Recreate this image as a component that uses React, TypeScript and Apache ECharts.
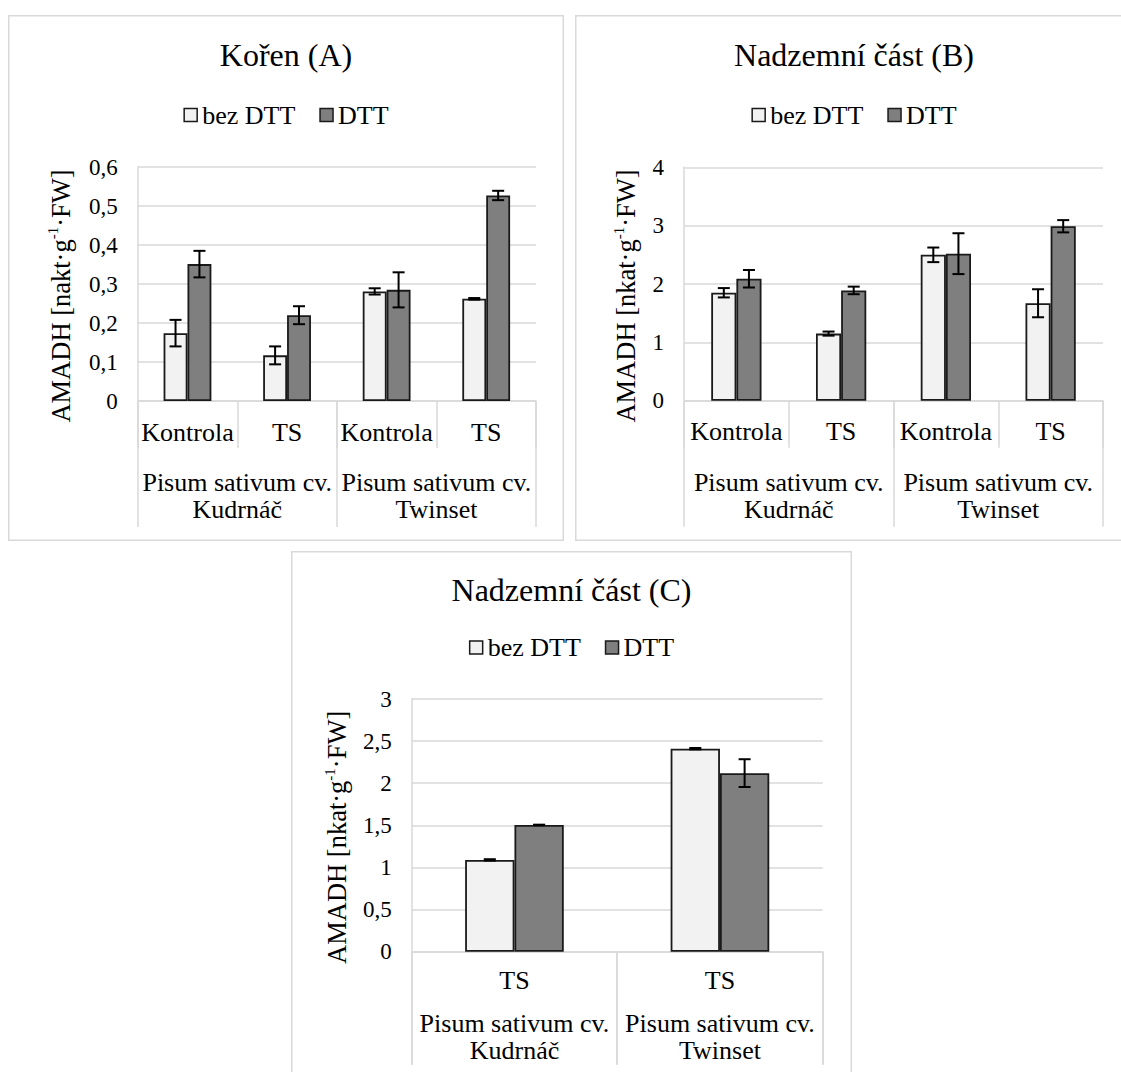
import React, { useEffect, useRef } from 'react';
import * as echarts from 'echarts';

const FONT = 'Liberation Serif, serif';
const LIGHT = '#f2f2f2';
const DARK = '#7f7f7f';
const GRIDC = '#d9d9d9';
const INK = '#000000';
const EDGE = '#1a1a1a';

const seriesNames = ['bez DTT', 'DTT'];

// Panel A – Kořen
const catsAB = ['Kontrola', 'TS', 'Kontrola', 'TS'];
const groupsAB = ['Pisum sativum cv.\nKudrnáč', 'Pisum sativum cv.\nTwinset'];
const aBez = [0.174, 0.117, 0.281, 0.262];
const aBezErr = [0.034, 0.023, 0.008, 0.002];
const aDtt = [0.351, 0.22, 0.285, 0.527];
const aDttErr = [0.034, 0.023, 0.045, 0.012];
const aTicks = { min: 0, max: 0.6, interval: 0.1 };

// Panel B – Nadzemní část
const bBez = [1.85, 1.15, 2.5, 1.67];
const bBezErr = [0.08, 0.035, 0.125, 0.24];
const bDtt = [2.09, 1.89, 2.52, 2.99];
const bDttErr = [0.15, 0.065, 0.35, 0.105];
const bTicks = { min: 0, max: 4, interval: 1 };

// Panel C – Nadzemní část
const catsC = ['TS', 'TS'];
const groupsC = ['Pisum sativum cv.\nKudrnáč', 'Pisum sativum cv.\nTwinset'];
const cBez = [1.09, 2.41];
const cBezErr = [0.008, 0.008];
const cDtt = [1.505, 2.12];
const cDttErr = [0.003, 0.165];
const cTicks = { min: 0, max: 3, interval: 0.5 };

type Spec = {
  title: string;
  yName: string;
  cats: string[];
  groups: string[];
  bez: number[];
  bezErr: number[];
  dtt: number[];
  dttErr: number[];
  ticks: { min: number; max: number; interval: number };
  box: { left: number; top: number; width: number; height: number };
  grid: { left: number; top: number; width: number; height: number };
  nameGap: number;
  subMargin: number;
  groupMargin: number;
  subTick: number;
  groupTick: number;
  titleTop: number;
  legendTop: number;
};

const fmt = (v: number) => String(Number(v.toFixed(2))).replace('.', ',');

function errSeries(vals: number[], errs: number[], offset: number) {
  return {
    type: 'custom',
    xAxisIndex: 0,
    yAxisIndex: 0,
    silent: true,
    z: 10,
    encode: { x: 0, y: 1 },
    data: vals.map((v, i) => [i, v, errs[i]]),
    renderItem: (params: any, api: any) => {
      const i = api.value(0);
      const v = api.value(1);
      const e = api.value(2);
      if (!(e > 0)) return null;
      const band = api.size([1, 0])[0];
      const cx = api.coord([i, v])[0] + offset * band;
      const yt = api.coord([i, v + e])[1];
      const yb = api.coord([i, v - e])[1];
      const st = { stroke: INK, lineWidth: 2 };
      return {
        type: 'group',
        children: [
          { type: 'line', shape: { x1: cx, y1: yt, x2: cx, y2: yb }, style: st },
          { type: 'line', shape: { x1: cx - 6, y1: yt, x2: cx + 6, y2: yt }, style: st },
          { type: 'line', shape: { x1: cx - 6, y1: yb, x2: cx + 6, y2: yb }, style: st },
        ],
      };
    },
  };
}

function buildOption(s: Spec): any {
  const text = { fontFamily: FONT, color: INK };
  return {
    animation: false,
    backgroundColor: '#ffffff',
    textStyle: { fontFamily: FONT },
    title: {
      text: s.title,
      left: 'center',
      top: s.titleTop,
      padding: 0,
      textStyle: { ...text, fontSize: 32, fontWeight: 'normal', lineHeight: 32 },
    },
    legend: {
      data: seriesNames,
      left: 'center',
      top: s.legendTop,
      padding: [0, 0, 0, 16],
      itemWidth: 13,
      itemHeight: 13,
      itemGap: 24,
      icon: 'rect',
      textStyle: { ...text, fontSize: 26 },
      itemStyle: { borderColor: EDGE, borderWidth: 1.5 },
    },
    graphic: [
      {
        type: 'rect',
        shape: { x: 0.75, y: 0.75, width: s.box.width - 1.5, height: s.box.height - 1.5 },
        style: { fill: 'none', stroke: GRIDC, lineWidth: 1.5 },
        silent: true,
        z: -1,
      },
    ],
    grid: { ...s.grid, containLabel: false },
    xAxis: [
      {
        type: 'category',
        data: s.cats,
        position: 'bottom',
        axisLine: { show: true, lineStyle: { color: GRIDC, width: 1.5 } },
        axisTick: { show: true, interval: 0, length: s.subTick, lineStyle: { color: GRIDC, width: 1.5 } },
        axisLabel: { interval: 0, margin: s.subMargin, ...text, fontSize: 26 },
        splitLine: { show: false },
      },
      {
        type: 'category',
        data: s.groups,
        position: 'bottom',
        axisLine: { show: false },
        axisTick: { show: true, interval: 0, length: s.groupTick, lineStyle: { color: GRIDC, width: 1.5 } },
        axisLabel: { interval: 0, margin: s.groupMargin, ...text, fontSize: 26, lineHeight: 27 },
        splitLine: { show: false },
      },
    ],
    yAxis: {
      type: 'value',
      min: s.ticks.min,
      max: s.ticks.max,
      interval: s.ticks.interval,
      axisLine: { show: true, lineStyle: { color: GRIDC, width: 1.5 } },
      axisTick: { show: false },
      splitLine: { show: true, lineStyle: { color: GRIDC, width: 1.5 } },
      axisLabel: { ...text, fontSize: 23, margin: 20, formatter: (v: number) => fmt(v) },
      name: s.yName,
      nameLocation: 'middle',
      nameGap: s.nameGap,
      nameTextStyle: {
        ...text,
        fontSize: 26.5,
        padding: [0, 24, 0, 0],
        rich: {
          n: { fontFamily: FONT, color: INK, fontSize: 26.5, lineHeight: 30 },
          s: { fontFamily: FONT, color: INK, fontSize: 15, lineHeight: 15, verticalAlign: 'top' },
        },
      },
    },
    series: [
      {
        type: 'bar',
        name: seriesNames[0],
        data: s.bez,
        barGap: '0%',
        barCategoryGap: '52%',
        itemStyle: { color: LIGHT, borderColor: EDGE, borderWidth: 1.8 },
        z: 2,
      },
      {
        type: 'bar',
        name: seriesNames[1],
        data: s.dtt,
        barGap: '0%',
        barCategoryGap: '52%',
        itemStyle: { color: DARK, borderColor: EDGE, borderWidth: 1.8 },
        z: 2,
      },
      errSeries(s.bez, s.bezErr, -0.12),
      errSeries(s.dtt, s.dttErr, 0.12),
    ],
  };
}

const specs: Spec[] = [
  {
    title: 'Kořen (A)',
    yName: '{n|AMADH [nakt·g}{s|-1}{n|·FW]}',
    cats: catsAB,
    groups: groupsAB,
    bez: aBez,
    bezErr: aBezErr,
    dtt: aDtt,
    dttErr: aDttErr,
    ticks: aTicks,
    box: { left: 8, top: 15, width: 556, height: 526 },
    grid: { left: 129.7, top: 152, width: 398.3, height: 234 },
    nameGap: 62,
    subMargin: 18,
    groupMargin: 68,
    subTick: 47,
    groupTick: 126,
    titleTop: 24,
    legendTop: 87,
  },
  {
    title: 'Nadzemní část (B)',
    yName: '{n|AMADH [nkat·g}{s|-1}{n|·FW]}',
    cats: catsAB,
    groups: groupsAB,
    bez: bBez,
    bezErr: bBezErr,
    dtt: bDtt,
    dttErr: bDttErr,
    ticks: bTicks,
    box: { left: 575, top: 15, width: 558, height: 526 },
    grid: { left: 109, top: 152.3, width: 419, height: 233.4 },
    nameGap: 43,
    subMargin: 18,
    groupMargin: 68,
    subTick: 47,
    groupTick: 126,
    titleTop: 24,
    legendTop: 87,
  },
  {
    title: 'Nadzemní část (C)',
    yName: '{n|AMADH [nkat·g}{s|-1}{n|·FW]}',
    cats: catsC,
    groups: groupsC,
    bez: cBez,
    bezErr: cBezErr,
    dtt: cDtt,
    dttErr: cDttErr,
    ticks: cTicks,
    box: { left: 291, top: 551, width: 561, height: 530 },
    grid: { left: 120.7, top: 148, width: 411, height: 252.7 },
    nameGap: 59.7,
    subMargin: 16,
    groupMargin: 58,
    subTick: 113,
    groupTick: 113,
    titleTop: 23,
    legendTop: 83.5,
  },
];

function Panel({ spec }: { spec: Spec }) {
  const ref = useRef<HTMLDivElement | null>(null);
  useEffect(() => {
    if (!ref.current) return;
    const chart = echarts.init(ref.current, undefined, { renderer: 'svg' });
    chart.setOption(buildOption(spec));
    return () => chart.dispose();
  }, [spec]);
  return (
    <div
      ref={ref}
      style={{
        position: 'absolute',
        left: spec.box.left,
        top: spec.box.top,
        width: spec.box.width,
        height: spec.box.height,
      }}
    />
  );
}

export default function App() {
  return (
    <div
      style={{
        position: 'fixed',
        left: 0,
        top: 0,
        width: 1121,
        height: 1072,
        overflow: 'hidden',
        background: '#ffffff',
      }}
    >
      {specs.map((s, i) => (
        <Panel key={i} spec={s} />
      ))}
    </div>
  );
}
